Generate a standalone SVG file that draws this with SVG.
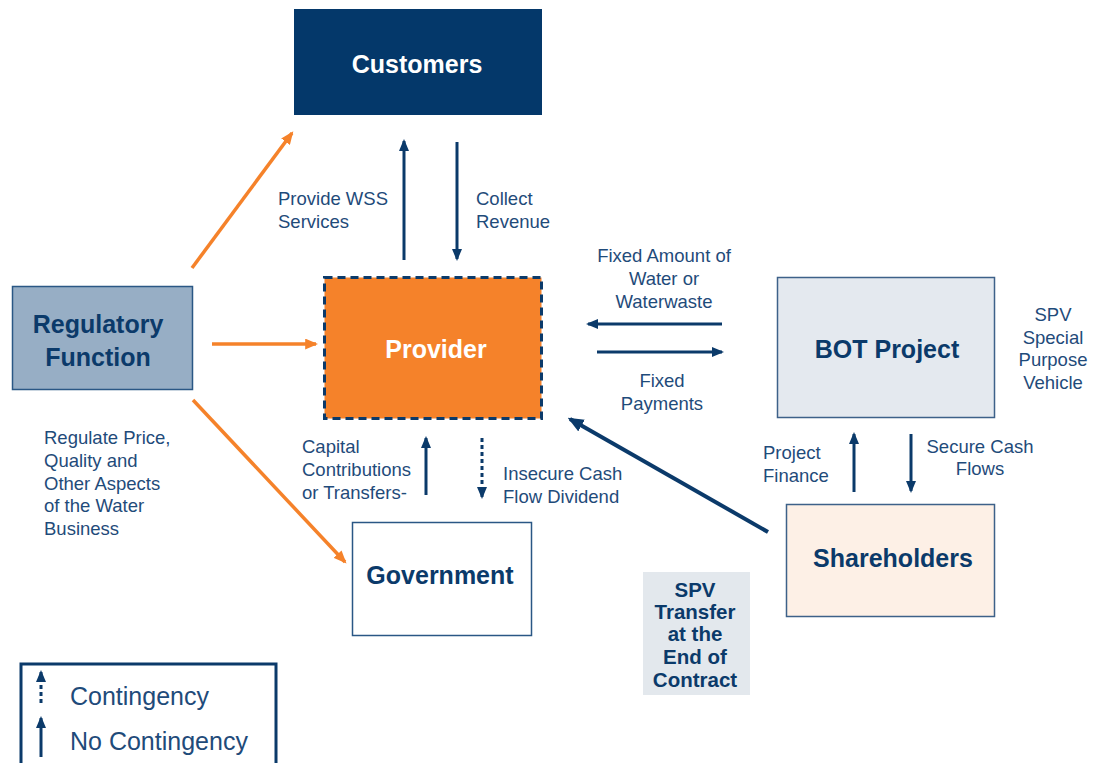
<svg xmlns="http://www.w3.org/2000/svg" width="1098" height="763" viewBox="0 0 1098 763">
<defs>
<style>
.lbl{font-family:"Liberation Sans",Arial,sans-serif;font-size:18.5px;fill:#1f4b7a}
.nt{font-family:"Liberation Sans",Arial,sans-serif;font-size:25px;font-weight:bold;fill:#0b3a6a;text-anchor:middle}
.wt{fill:#ffffff}
.nv{stroke:#0b3a6a;stroke-width:3;fill:none}
.or{stroke:#f5822a;stroke-width:3.5;fill:none}
.lg{font-family:"Liberation Sans",Arial,sans-serif;font-size:25px;fill:#1f4b7a}
</style>
<marker id="hn" viewBox="0 0 12 10" refX="10" refY="5" markerWidth="12" markerHeight="10" markerUnits="userSpaceOnUse" orient="auto"><path d="M0,0 L12,5 L0,10 z" fill="#0b3a6a"/></marker>
<marker id="ho" viewBox="0 0 12 10" refX="10" refY="5" markerWidth="13" markerHeight="11" markerUnits="userSpaceOnUse" orient="auto"><path d="M0,0 L12,5 L0,10 z" fill="#f5822a"/></marker>
<marker id="hb" viewBox="0 0 12 10" refX="10" refY="5" markerWidth="16" markerHeight="14" markerUnits="userSpaceOnUse" orient="auto"><path d="M0,0 L12,5 L0,10 z" fill="#0b3a6a"/></marker>
</defs>
<rect width="1098" height="763" fill="#ffffff"/>

<g id="customers">
<rect x="294" y="9" width="248" height="106" fill="#04386a"/>
<text class="nt wt" x="417" y="73">Customers</text>
</g>

<g id="provider">
<rect x="324.5" y="277.5" width="217" height="141" fill="#f5822a" stroke="#0b3a6a" stroke-width="3" stroke-dasharray="8 5"/>
<text class="nt wt" x="436" y="358">Provider</text>
</g>

<g id="regulatory">
<rect x="12.5" y="286.5" width="180" height="103" fill="#97aec5" stroke="#2a5785" stroke-width="1.5"/>
<text class="nt" x="98" y="333">Regulatory</text>
<text class="nt" x="98" y="366">Function</text>
</g>

<g id="bot">
<rect x="777.5" y="277.5" width="217" height="140" fill="#e4e9ef" stroke="#3d6189" stroke-width="1.5"/>
<text class="nt" x="887" y="358">BOT Project</text>
</g>

<g id="shareholders">
<rect x="786.5" y="504.5" width="208" height="112" fill="#fdf0e6" stroke="#3d6189" stroke-width="1.5"/>
<text class="nt" x="893" y="567">Shareholders</text>
</g>

<g id="government">
<rect x="352.5" y="522.5" width="179" height="113" fill="#ffffff" stroke="#2a5785" stroke-width="1.5"/>
<text class="nt" x="440" y="584">Government</text>
</g>

<g id="spv-transfer">
<rect x="643" y="572" width="107" height="123" fill="#e3e8ed"/>
<g class="nt" style="font-size:20.5px">
<text x="695" y="597">SPV</text>
<text x="695" y="619">Transfer</text>
<text x="695" y="641">at the</text>
<text x="695" y="664">End of</text>
<text x="695" y="687">Contract</text>
</g>
</g>

<g id="connectors">
<line class="or" x1="192" y1="268" x2="292" y2="133" marker-end="url(#ho)"/>
<line class="or" x1="212" y1="344" x2="316" y2="344" marker-end="url(#ho)"/>
<line class="or" x1="193" y1="400" x2="345" y2="562" marker-end="url(#ho)"/>
<line class="nv" x1="404" y1="260" x2="404" y2="141" marker-end="url(#hn)"/>
<line class="nv" x1="457" y1="142" x2="457" y2="259" marker-end="url(#hn)"/>
<line class="nv" x1="722" y1="324" x2="588" y2="324" marker-end="url(#hn)"/>
<line class="nv" x1="597" y1="352" x2="722" y2="352" marker-end="url(#hn)"/>
<line class="nv" x1="426" y1="495" x2="426" y2="438" marker-end="url(#hn)"/>
<line class="nv" x1="482" y1="438" x2="482" y2="497" stroke-dasharray="4 3" marker-end="url(#hn)"/>
<line class="nv" x1="854" y1="492" x2="854" y2="434" marker-end="url(#hn)"/>
<line class="nv" x1="911" y1="434" x2="911" y2="491" marker-end="url(#hn)"/>
<line class="nv" style="stroke-width:4" x1="768" y1="532" x2="570" y2="419" marker-end="url(#hb)"/>
</g>

<g id="labels">
<text class="lbl" x="278" y="205">Provide WSS</text>
<text class="lbl" x="278" y="228">Services</text>
<text class="lbl" x="476" y="205">Collect</text>
<text class="lbl" x="476" y="228">Revenue</text>
<g class="lbl" style="text-anchor:middle">
<text x="664" y="262">Fixed Amount of</text>
<text x="664" y="285">Water or</text>
<text x="664" y="308">Waterwaste</text>
<text x="662" y="387">Fixed</text>
<text x="662" y="410">Payments</text>
<text x="980" y="453">Secure Cash</text>
<text x="980" y="475">Flows</text>
<text x="1053" y="321">SPV</text>
<text x="1053" y="344">Special</text>
<text x="1053" y="366">Purpose</text>
<text x="1053" y="389">Vehicle</text>
</g>
<text class="lbl" x="302" y="453">Capital</text>
<text class="lbl" x="302" y="476">Contributions</text>
<text class="lbl" x="302" y="499">or Transfers-</text>
<text class="lbl" x="503" y="480">Insecure Cash</text>
<text class="lbl" x="503" y="503">Flow Dividend</text>
<text class="lbl" x="763" y="459">Project</text>
<text class="lbl" x="763" y="482">Finance</text>
<text class="lbl" x="44" y="444">Regulate Price,</text>
<text class="lbl" x="44" y="467">Quality and</text>
<text class="lbl" x="44" y="490">Other Aspects</text>
<text class="lbl" x="44" y="512">of the Water</text>
<text class="lbl" x="44" y="535">Business</text>
</g>

<g id="legend">
<rect x="21" y="664" width="255" height="110" fill="none" stroke="#0b3a6a" stroke-width="3"/>
<line class="nv" x1="41" y1="703" x2="41" y2="672" stroke-dasharray="4 3" marker-end="url(#hn)"/>
<line class="nv" x1="41" y1="757" x2="41" y2="718" marker-end="url(#hn)"/>
<text class="lg" x="70" y="705">Contingency</text>
<text class="lg" x="70" y="750">No Contingency</text>
</g>
</svg>
